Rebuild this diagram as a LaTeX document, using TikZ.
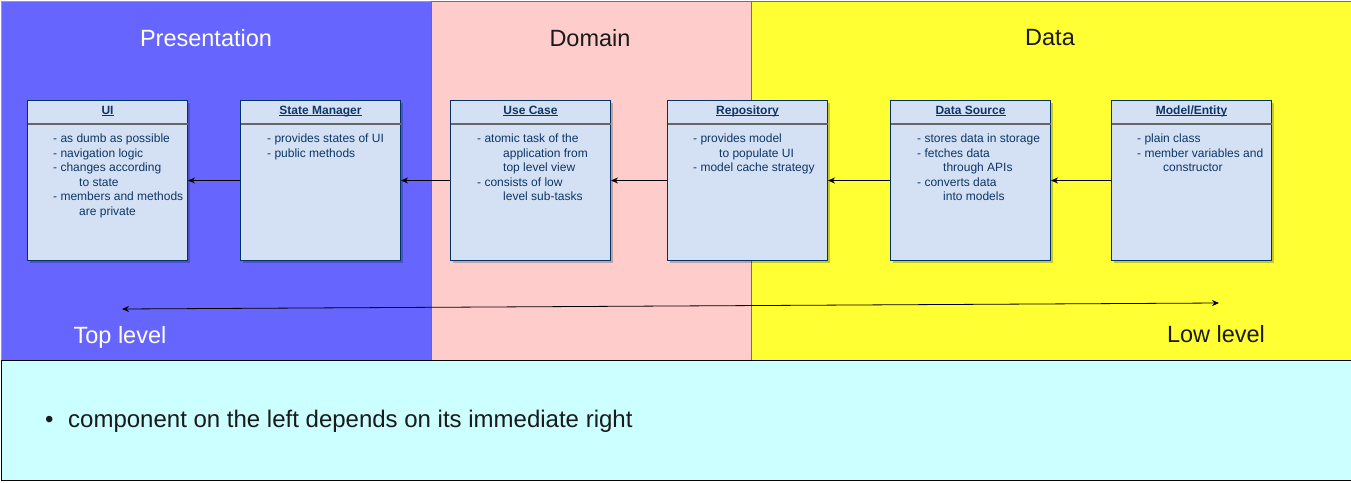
\documentclass[tikz,border=0pt]{standalone}
\usepackage{fontspec}
\setmainfont{Liberation Sans}
\usetikzlibrary{arrows.meta}
\definecolor{presfill}{HTML}{6666FF}
\definecolor{presline}{HTML}{82B366}
\definecolor{domfill}{HTML}{FFCCCC}
\definecolor{domline}{HTML}{B85450}
\definecolor{datafill}{HTML}{FFFF33}
\definecolor{notefill}{HTML}{CCFFFF}
\definecolor{boxfill}{HTML}{D4E1F5}
\definecolor{boxline}{HTML}{003366}
\definecolor{boxtext}{HTML}{0F3566}
\definecolor{darktext}{HTML}{1A1A1A}
\tikzset{
  lane/.style={draw, line width=1pt, anchor=north west, inner sep=0pt},
  lanetitle/.style={font=\fontsize{23.5}{28}\selectfont, inner sep=0pt, anchor=center},
  classbox/.style={draw=boxline, fill=boxfill, line width=1pt, anchor=north west,
    minimum width=160pt, minimum height=160pt, inner sep=0pt},
  boxshadow/.style={fill=black, opacity=0.22, anchor=north west,
    minimum width=160pt, minimum height=160pt, inner sep=0pt},
  header/.style={font=\fontsize{12}{14.5}\selectfont\bfseries, text=boxtext, inner sep=0pt, anchor=base},
  body/.style={font=\fontsize{12}{14.5}\selectfont, text=boxtext, inner sep=0pt, anchor=north west, align=left},
  dep/.style={-{Stealth[length=7pt,width=6pt]}, line width=1pt, black},
  levelarrow/.style={{Stealth[length=7pt,width=6pt]}-{Stealth[length=7pt,width=6pt]}, line width=0.8pt, black},
  sepline/.style={draw=black!60, line width=1.2pt}
}
\newcommand{\ind}{\hspace*{26pt}}
\newcommand{\ulx}[1]{\setbox0\hbox{#1}\rlap{\rule[-1.6pt]{\wd0}{0.8pt}}\box0}
\begin{document}
\begin{tikzpicture}[x=1pt,y=-1pt]
\useasboundingbox (0,0) rectangle (1351,482);
% lanes
\node[lane, draw=presline, fill=presfill, minimum width=430pt, minimum height=360pt] (pres) at (0.5,0.5) {};
\node[lane, draw=domline, fill=domfill, minimum width=320pt, minimum height=360pt] (dom) at (430.5,0.5) {};
\node[lane, draw=domline, fill=datafill, minimum width=600pt, minimum height=360pt] (data) at (750.5,0.5) {};
\node[lane, draw=black, fill=notefill, minimum width=1350pt, minimum height=120pt] (note) at (0.5,360) {};
% lane titles
\node[lanetitle, text=white] (tpres) at (206,38) {Presentation};
\node[lanetitle, text=darktext] (tdom) at (590,38) {Domain};
\node[lanetitle, text=darktext] (tdata) at (1050,38) {Data};
% shadows
\foreach \x/\n in {27/a,240/b,450/c,667/d,890/e,1111/f}{
  \node[boxshadow] (sh\n) at (\x+3,103) {};
}
% class boxes
\node[classbox] (ui) at (27,100) {};
\node[classbox] (sm) at (240,100) {};
\node[classbox] (uc) at (450,100) {};
\node[classbox] (repo) at (667,100) {};
\node[classbox] (ds) at (890,100) {};
\node[classbox] (me) at (1111,100) {};
\foreach \b in {ui,sm,uc,repo,ds,me}{
  \draw[sepline] ([yshift=-24pt,xshift=0.5pt]\b.north west) -- ([yshift=-24pt,xshift=-0.5pt]\b.north east);
}
% headers
\node[header] (hui) at ([yshift=-14.5pt]ui.north) {\ulx{UI}};
\node[header] (hsm) at ([yshift=-14.5pt]sm.north) {\ulx{State Manager}};
\node[header] (huc) at ([yshift=-14.5pt]uc.north) {\ulx{Use Case}};
\node[header] (hrepo) at ([yshift=-14.5pt]repo.north) {\ulx{Repository}};
\node[header] (hds) at ([yshift=-14.5pt]ds.north) {\ulx{Data Source}};
\node[header] (hme) at ([yshift=-14.5pt]me.north) {\ulx{Model/Entity}};
% bodies
\node[body] (bui) at (53,134) {- as dumb as possible\\- navigation logic\\- changes according\\\ind to state\\- members and methods\\\ind are private};
\node[body] (bsm) at (267,134) {- provides states of UI\\- public methods};
\node[body] (buc) at (477,134) {- atomic task of the\\\ind application from\\\ind top level view\\- consists of low\\\ind level sub-tasks};
\node[body] (brepo) at (693,134) {- provides model\\\ind to populate UI\\- model cache strategy};
\node[body] (bds) at (917,134) {- stores data in storage\\- fetches data\\\ind through APIs\\- converts data\\\ind into models};
\node[body] (bme) at (1137,134) {- plain class\\- member variables and\\\ind constructor};
% dependency arrows
\draw[dep] (sm.west) -- (ui.east);
\draw[dep] (uc.west) -- (sm.east);
\draw[dep] (repo.west) -- (uc.east);
\draw[dep] (ds.west) -- (repo.east);
\draw[dep] (me.west) -- (ds.east);
% level arrow
\coordinate (toparr) at (122,309);
\coordinate (lowarr) at (1219,303);
\draw[levelarrow] (toparr) -- (lowarr);
\node[lanetitle, text=white] (toplevel) at (120,337) {Top level};
\node[lanetitle, text=darktext] (lowlevel) at (1216,334) {Low level};
% note
\node[font=\fontsize{24}{28}\selectfont, text=darktext, inner sep=0pt, anchor=base west] (bullet) at (45,427) {•};
\node[font=\fontsize{24}{28}\selectfont, text=darktext, inner sep=0pt, anchor=base west] (notetext) at (68,427) {component on the left depends on its immediate right};
\end{tikzpicture}
\end{document}
